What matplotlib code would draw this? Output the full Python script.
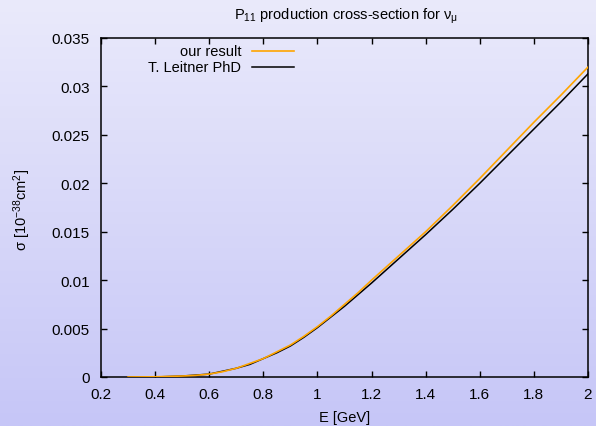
import numpy as np
import matplotlib
matplotlib.use("Agg")
import matplotlib.pyplot as plt

plt.rcParams['font.family'] = ['Liberation Sans', 'DejaVu Sans']
plt.rcParams['mathtext.fontset'] = 'custom'
plt.rcParams['mathtext.rm'] = 'Liberation Sans'
plt.rcParams['mathtext.it'] = 'Liberation Sans'

# Data
energy = [0.3, 0.4, 0.5, 0.55, 0.6, 0.65, 0.7, 0.75, 0.8, 0.85, 0.9, 0.95, 1.0, 1.05, 1.1, 1.15,
          1.2, 1.3, 1.4, 1.5, 1.6, 1.7, 1.8, 1.9, 2.0]
our_result = [0.0, 0.00002, 0.0001, 0.00017, 0.0003, 0.00055, 0.0009, 0.0014, 0.0019, 0.0026,
              0.0033, 0.0042, 0.0052, 0.0063, 0.0075, 0.0087, 0.0100,
              0.0125, 0.0150, 0.0177, 0.0205, 0.0234, 0.0263, 0.0291, 0.0320]
leitner_E = [0.3, 0.4, 0.5, 0.55, 0.6, 0.65, 0.7, 0.75, 0.8, 0.85, 0.9, 0.95, 1.0, 1.05, 1.1,
             1.15, 1.2, 1.3, 1.4, 1.5, 1.6, 1.7, 1.8, 1.9, 2.0]
leitner = [0.0, 0.0, 0.0001, 0.0002, 0.0003, 0.0006, 0.0009, 0.0013, 0.0019, 0.0025, 0.0032,
           0.0041, 0.0051, 0.0062, 0.0073, 0.0085, 0.0097, 0.0122, 0.0147, 0.0173, 0.0200,
           0.0228, 0.0256, 0.0284, 0.0313]
xticks = [0.2, 0.4, 0.6, 0.8, 1.0, 1.2, 1.4, 1.6, 1.8, 2.0]
xticklabels = ['0.2', '0.4', '0.6', '0.8', '1', '1.2', '1.4', '1.6', '1.8', '2']
yticks = [0, 0.005, 0.01, 0.015, 0.02, 0.025, 0.03, 0.035]
yticklabels = ['0', '0.005', '0.01', '0.015', '0.02', '0.025', '0.03', '0.035']

W, H = 596, 427
fig = plt.figure(figsize=(W / 100, H / 100), dpi=100)

# background gradient
bg = fig.add_axes([0, 0, 1, 1], zorder=-10)
top = np.array([234, 234, 251]) / 255
bot = np.array([198, 198, 247]) / 255
t = np.linspace(0, 1, 256)[:, None]
grad = (top[None, :] * (1 - t) + bot[None, :] * t)[:, None, :]
bg.imshow(grad, aspect='auto', extent=[0, 1, 0, 1])
bg.axis('off')

left, right, ytop, ybot = 101, 588, 39, 378
ax = fig.add_axes([left / W, 1 - ybot / H, (right - left) / W, (ybot - ytop) / H])
ax.patch.set_alpha(0)

ax.plot(energy, our_result, color='#ffa500', lw=1.2, zorder=3)
ax.plot(leitner_E, leitner, color='black', lw=1.1, zorder=2)

ax.set_xlim(0.2, 2.0)
ax.set_ylim(0, 0.035)
ax.set_xticks(xticks)
ax.set_xticklabels(xticklabels)
ax.set_yticks(yticks)
ax.set_yticklabels(yticklabels)
ax.tick_params(direction='in', length=4, width=1, top=True, right=True,
               labelsize=11, colors='black')
ax.tick_params(axis='y', pad=8)
ax.tick_params(axis='x', pad=7)
for s in ax.spines.values():
    s.set_linewidth(1.1)

# legend (gnuplot style: text right-aligned, sample to the right)
fs = 10.5
ax.text(0.2875, 0.9625, 'our result', transform=ax.transAxes, ha='right', va='center', fontsize=fs)
ax.text(0.2875, 0.9153, 'T. Leitner PhD', transform=ax.transAxes, ha='right', va='center', fontsize=fs)
ax.plot([0.3094, 0.3969], [0.9625, 0.9625], transform=ax.transAxes, color='#ffa500', lw=1.2)
ax.plot([0.3094, 0.3969], [0.9153, 0.9153], transform=ax.transAxes, color='black', lw=1.1)

fig.text(346 / W, 1 - 16 / H, r'P$\mathregular{_{11}}$ production cross-section for ν$\mathregular{_{μ}}$',
         ha='center', va='center', fontsize=10.5)
fig.text(345 / W, 1 - 418 / H, 'E [GeV]', ha='center', va='center', fontsize=10.5)
fig.text(22 / W, 1 - 210 / H, r'σ [10$\mathregular{^{-38}}$cm$\mathregular{^{2}}$]', ha='center', va='center',
         rotation=90, fontsize=10.5)

fig.savefig('out.png', dpi=100)
